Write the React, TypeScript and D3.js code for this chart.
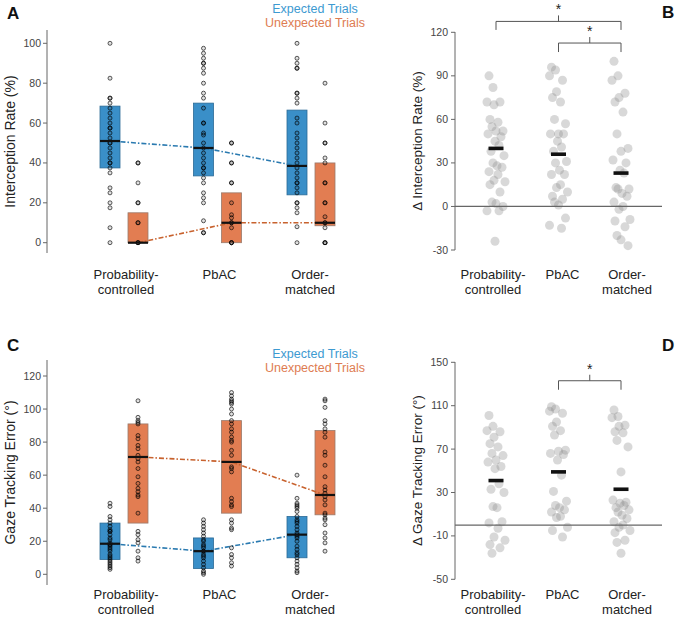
import React from 'react'
import * as d3 from 'd3'

const groups = ['Probability-controlled', 'PbAC', 'Order-matched']
const groupLines = [['Probability-', 'controlled'], ['PbAC'], ['Order-', 'matched']]

// panel A - interception rate (%)
const rateExpQ1 = [37.5, 33.5, 24]
const rateExpMed = [51, 47.5, 38.5]
const rateExpQ3 = [68.5, 70, 66.5]
const rateUnexpQ1 = [0, 0, 8.5]
const rateUnexpMed = [0, 10, 10]
const rateUnexpQ3 = [15, 25, 40]
const rateExpDots = [
  [100, 82.5, 72.5, 72.5, 70, 67.5, 65, 62.5, 60, 57.5, 57.5, 55, 52.5, 50, 50, 47.5, 45, 42.5, 40, 40, 37.5, 35, 27.5, 25, 20, 17.5, 7.5, 0],
  [97.5, 95, 92.5, 90, 90, 87.5, 85, 80, 75, 72.5, 67.5, 60, 60, 55, 54, 50, 47.5, 45, 42.5, 40, 37.5, 37.5, 35, 32.5, 30, 25, 22.5, 20, 11, 5, 5],
  [100, 92.5, 90, 87.5, 87.5, 75, 75, 72.5, 70, 62.5, 60, 55, 52.5, 50, 47.5, 45, 42.5, 40, 37.5, 35, 32.5, 30, 30, 27.5, 25, 20, 20, 17.5, 15, 8, 0],
]
const rateUnexpDots = [
  [40, 40, 30, 20, 20, 10, 10, 0, 0, 0],
  [50, 50, 40, 40, 30, 30, 20, 14, 12.5, 10, 10, 7.5, 0, 0, 0],
  [80, 60, 50, 50, 42.5, 40, 30, 30, 20, 20, 13, 10, 10, 7.5, 0, 0, 0],
]
const rateTicks = [0, 20, 40, 60, 80, 100]

// panel C - gaze tracking error (deg)
const gazeExpQ1 = [9, 3.5, 10]
const gazeExpMed = [18.5, 14, 24]
const gazeExpQ3 = [31, 22, 35]
const gazeUnexpQ1 = [31, 37, 36]
const gazeUnexpMed = [71, 68, 48]
const gazeUnexpQ3 = [91, 93, 87]
const gazeExpDots = [
  [43, 41, 35, 33, 31, 29, 27, 26, 26, 24, 22, 21, 19, 18, 18, 17, 16, 15, 14, 12, 11, 10, 9, 8, 7, 6, 5, 4, 3],
  [33, 31, 29, 27, 25, 23, 21, 20, 18, 17, 16, 14, 14, 12, 11, 10, 8, 6, 4, 2, 1, 0],
  [60, 46, 43, 42, 41, 40, 38, 35, 33, 32, 31, 29, 27, 25, 24, 23, 22, 20, 17, 15, 13, 12, 10, 8, 6, 4, 2, 1],
]
const gazeUnexpDots = [
  [105, 95, 93, 92, 91, 84, 82, 78, 76, 72, 70, 68, 64, 59, 55, 52, 50, 48, 47, 37, 26, 24, 21, 19, 14, 10, 8],
  [110, 108, 106, 105, 104, 103, 100, 97, 93, 91, 88, 86, 83, 81, 80, 75, 72, 65, 64, 62, 46, 44, 42, 41, 33, 31, 28, 27, 16, 12, 10, 7, 5],
  [106, 105, 101, 93, 91, 88, 86, 83, 74, 72, 66, 59, 53, 51, 49, 47, 45, 42, 37, 36, 34, 33, 30, 25, 22, 19, 14],
]
const gazeTicks = [0, 20, 40, 60, 80, 100, 120]

// panel B - delta interception rate
const deltaRate = [
  [90, 82, 72, 72, 70, 60, 58, 55, 52, 52, 50, 48, 45, 42, 38, 35, 30, 28, 27, 24, 22, 18, 17, 15, 10, 3, 2, 0, -3, -3, -24],
  [96, 94, 90, 87, 79, 75, 72, 60, 57, 50, 50, 50, 45, 41, 38, 31, 30, 25, 22, 22, 15, 13, 10, 7, 5, 3, 1, -8, -13, -15],
  [100, 90, 87, 78, 75, 72, 65, 50, 40, 38, 32, 30, 25, 23, 13, 12, 12, 9, 7, 3, 0, -2, -9, -10, -14, -20, -23, -27],
]
const deltaRateMean = [40, 36, 23]
const deltaRateTicks = [-30, 0, 30, 60, 90, 120]

// panel D - delta gaze error
const deltaGaze = [
  [101, 91, 87, 86, 81, 75, 72, 66, 64, 60, 58, 54, 52, 38, 33, 30, 17, 16, 3, 2, -3, -11, -14, -18, -21, -26],
  [109, 107, 105, 103, 95, 91, 87, 83, 69, 68, 66, 65, 60, 46, 31, 22, 18, 16, 14, 12, 8, 7, -2, -5, -11],
  [106, 100, 99, 92, 91, 86, 85, 78, 72, 49, 23, 21, 20, 18, 16, 14, 12, 9, 6, 3, 0, -2, -5, -7, -14, -16, -26],
]
const deltaGazeMean = [41, 49, 33]
const deltaGazeTicks = [-50, -10, 30, 70, 110, 150]

const jit = [-7, -3, -9, 4, -2, -6, 2, -4, 7, 0, -8, 5, -1, 3, -5, 8, -3, 1, 6, -7, 2, -2, 9, -6, 4, -4, 0, 7, -9, 3, -1]

const FONT = '"Liberation Sans", Arial, sans-serif'
const BLUE = '#3a8fc8'
const ORANGE = '#e27d52'

const StripPanel = ({ y, ticks, axisTop, axisBot, expQ1, expMed, expQ3, unQ1, unMed, unQ3, expDots, unDots, ylabel, letterY, legendY, catY }) => {
  const x = d3.scalePoint().domain(groups).range([124, 311])
  const off = 14
  const bw = 20
  const line = d3.line().x(d => d[0]).y(d => d[1])
  const expLine = line(groups.map((g, i) => [x(g) - off, y(expMed[i])]))
  const unLine = line(groups.map((g, i) => [x(g) + off, y(unMed[i])]))
  const boxes = [
    { o: -off, q1: expQ1, q3: expQ3, med: expMed, fill: BLUE, stroke: '#2b6a96' },
    { o: off, q1: unQ1, q3: unQ3, med: unMed, fill: ORANGE, stroke: '#9a7a6c' },
  ]
  const mid = (axisTop + axisBot) / 2
  return (
    <g fontFamily={FONT}>
      <text x={7} y={letterY} fontSize={17} fontWeight="bold" fill="#111">{ylabel.letter}</text>
      <text x={315} y={legendY} fontSize={12.5} fill="#3d9ad1" textAnchor="middle">Expected Trials</text>
      <text x={315} y={legendY + 14} fontSize={12.5} fill="#de7c52" textAnchor="middle">Unexpected Trials</text>
      <line x1={47} x2={47} y1={axisTop} y2={axisBot} stroke="#666" />
      {ticks.map(t => (
        <g key={t}>
          <line x1={43} x2={47} y1={y(t)} y2={y(t)} stroke="#666" />
          <text x={41} y={y(t) + 3.5} fontSize={10.5} fill="#444" textAnchor="end">{t}</text>
        </g>
      ))}
      <text transform={`translate(15,${mid}) rotate(-90)`} fontSize={14} fill="#222" textAnchor="middle">{ylabel.text}</text>
      {groups.map((g, i) => boxes.map((b, k) => (
        <rect key={g + k} x={x(g) + b.o - bw / 2} width={bw} y={y(b.q3[i])} height={y(b.q1[i]) - y(b.q3[i])}
          fill={b.fill} stroke={b.stroke} strokeWidth={0.8} />
      )))}
      <path d={expLine} fill="none" stroke="#2a7ab0" strokeWidth={1.6} strokeDasharray="5,2,1.5,2" />
      <path d={unLine} fill="none" stroke="#c8622e" strokeWidth={1.6} strokeDasharray="5,2,1.5,2" />
      {groups.map((g, i) => [[expDots[i], -off], [unDots[i], off]].map(([ds, o], k) => (
        <g key={g + 'd' + k}>
          {ds.map((v, j) => (
            <circle key={j} cx={x(g) + o} cy={y(v)} r={2} fill="rgba(0,0,0,0.12)" stroke="rgba(0,0,0,0.7)" strokeWidth={0.9} />
          ))}
        </g>
      )))}
      {groups.map((g, i) => boxes.map((b, k) => (
        <line key={g + 'm' + k} x1={x(g) + b.o - bw / 2} x2={x(g) + b.o + bw / 2} y1={y(b.med[i])} y2={y(b.med[i])}
          stroke="#111" strokeWidth={2.2} />
      )))}
      {groups.map((g, i) => groupLines[i].map((s, k) => (
        <text key={g + s} x={x(g) + (i === 2 ? -1 : 2)} y={catY + k * 14.5} fontSize={13} fill="#222" textAnchor="middle">{s}</text>
      )))}
    </g>
  )
}

const DeltaPanel = ({ y, ticks, axisTop, axisBot, vals, means, ylabel, brackets, catY, letterY }) => {
  const x = d3.scalePoint().domain(groups).range([496, 621])
  const mid = (axisTop + axisBot) / 2
  return (
    <g fontFamily={FONT}>
      <text x={662} y={letterY} fontSize={17} fontWeight="bold" fill="#111">{ylabel.letter}</text>
      <line x1={455} x2={455} y1={axisTop} y2={axisBot} stroke="#666" />
      {ticks.map(t => (
        <g key={t}>
          <line x1={451} x2={455} y1={y(t)} y2={y(t)} stroke="#666" />
          <text x={448} y={y(t) + 3.5} fontSize={10.5} fill="#444" textAnchor="end">{t}</text>
        </g>
      ))}
      <text transform={`translate(422,${mid}) rotate(-90)`} fontSize={13.5} fill="#222" textAnchor="middle">{ylabel.text}</text>
      {groups.map((g, i) => (
        <g key={g}>
          {vals[i].map((v, j) => (
            <circle key={j} cx={x(g) + jit[j % jit.length]} cy={y(v)} r={4.5} fill="#888" fillOpacity={0.33} />
          ))}
        </g>
      ))}
      <line x1={455} x2={662} y1={y(0)} y2={y(0)} stroke="#666" strokeWidth={1.2} />
      {groups.map((g, i) => (
        <rect key={g + 'm'} x={x(g) - 7.5} width={15} y={y(means[i]) - 1.8} height={3.6} fill="#111" />
      ))}
      {brackets.map(([a, b, level, drop], k) => {
        const x1 = x(groups[a]), x2 = x(groups[b]), yy = y(level), xm = (x1 + x2) / 2
        return (
          <g key={k} stroke="#555" fill="none">
            <path d={`M${x1},${yy + drop}V${yy}H${x2}V${yy + drop}M${xm},${yy}V${yy - 6}`} />
            <text x={xm} y={yy - 7} fontSize={14} fill="#222" stroke="none" textAnchor="middle">*</text>
          </g>
        )
      })}
      {groups.map((g, i) => groupLines[i].map((s, k) => (
        <text key={g + s} x={x(g) + (i === 0 ? -3 : i === 1 ? 4 : 6)} y={catY + k * 14.5} fontSize={13} fill="#222" textAnchor="middle">{s}</text>
      )))}
    </g>
  )
}

export default function App() {
  const yA = d3.scaleLinear().domain([0, 100]).range([242.7, 43.3])
  const yC = d3.scaleLinear().domain([0, 120]).range([574.3, 376])
  const yB = d3.scaleLinear().domain([-30, 120]).range([250, 32.3])
  const yD = d3.scaleLinear().domain([-50, 150]).range([579.3, 362.3])
  return (
    <svg width={677} height={619} style={{ position: 'absolute', left: 0, top: 0, background: '#fff' }}>
      <StripPanel y={yA} ticks={rateTicks} axisTop={30} axisBot={253}
        expQ1={rateExpQ1} expMed={rateExpMed} expQ3={rateExpQ3}
        unQ1={rateUnexpQ1} unMed={rateUnexpMed} unQ3={rateUnexpQ3}
        expDots={rateExpDots} unDots={rateUnexpDots}
        ylabel={{ letter: 'A', text: 'Interception Rate (%)' }} letterY={19} legendY={13} catY={279} />
      <DeltaPanel y={yB} ticks={deltaRateTicks} axisTop={32} axisBot={250}
        vals={deltaRate} means={deltaRateMean}
        ylabel={{ letter: 'B', text: 'Δ Interception Rate (%)' }}
        brackets={[[0, 2, 127.5, 8.5], [1, 2, 112.6, 9]]} catY={279} letterY={18} />
      <StripPanel y={yC} ticks={gazeTicks} axisTop={360} axisBot={585}
        expQ1={gazeExpQ1} expMed={gazeExpMed} expQ3={gazeExpQ3}
        unQ1={gazeUnexpQ1} unMed={gazeUnexpMed} unQ3={gazeUnexpQ3}
        expDots={gazeExpDots} unDots={gazeUnexpDots}
        ylabel={{ letter: 'C', text: 'Gaze Tracking Error (°)' }} letterY={351} legendY={358} catY={599} />
      <DeltaPanel y={yD} ticks={deltaGazeTicks} axisTop={362} axisBot={579.3}
        vals={deltaGaze} means={deltaGazeMean}
        ylabel={{ letter: 'D', text: 'Δ Gaze Tracking Error (°)' }}
        brackets={[[1, 2, 133, 9]]} catY={599} letterY={351} />
    </svg>
  )
}
